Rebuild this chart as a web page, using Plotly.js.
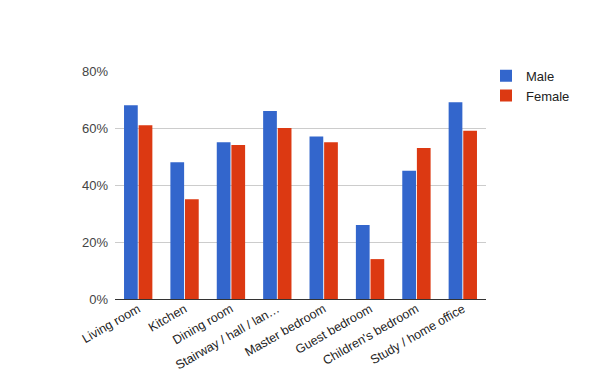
<!DOCTYPE html>
<html>
<head>
<meta charset="utf-8">
<script src="https://cdn.plot.ly/plotly-3.0.1.min.js"></script>
<style>html,body{margin:0;padding:0;background:#fff}#chart{width:600px;height:371px}</style>
</head>
<body>
<div id="chart"></div>
<script>
const categories = ["Living room", "Kitchen", "Dining room", "Stairway / hall / lan\u2026", "Master bedroom", "Guest bedroom", "Children's bedroom", "Study / home office"];
const maleValues = [0.68, 0.48, 0.55, 0.66, 0.57, 0.26, 0.45, 0.69];
const femaleValues = [0.61, 0.35, 0.54, 0.60, 0.55, 0.14, 0.53, 0.59];
const yTickValues = [0, 0.2, 0.4, 0.6, 0.8];

const traces = [
  {type: "bar", name: "Male", x: categories, y: maleValues, marker: {color: "#3366CC"}, hoverinfo: "none"},
  {type: "bar", name: "Female", x: categories, y: femaleValues, marker: {color: "#DC3912"}, hoverinfo: "none"}
];

const layout = {
  width: 600, height: 371,
  margin: {l: 115, r: 114, t: 71, b: 72, pad: 0},
  paper_bgcolor: "#fff", plot_bgcolor: "#fff",
  font: {family: "Liberation Sans, Arial, sans-serif", size: 13, color: "#444"},
  barmode: "group", bargap: 0.37, bargroupgap: 0.06,
  showlegend: true,
  legend: {x: 1.0, xanchor: "left", y: 1.045, yanchor: "top", font: {size: 13, color: "#222"}, bgcolor: "rgba(0,0,0,0)", tracegroupgap: 0},
  xaxis: {
    type: "category", tickangle: -30, showgrid: false, showline: true, linecolor: "#333", linewidth: 1,
    ticks: "", tickfont: {size: 12.5, color: "#222"}, zeroline: false, fixedrange: true, ticklabelstandoff: -3
  },
  yaxis: {
    range: [0, 0.8], tickvals: yTickValues, tickformat: ".0%", showgrid: true, gridcolor: "#ccc",
    zeroline: true, zerolinecolor: "#333", zerolinewidth: 1, ticks: "", tickfont: {size: 13, color: "#444"},
    fixedrange: true, showline: false, ticklabelstandoff: 6
  }
};

Plotly.newPlot("chart", traces, layout, {displayModeBar: false, staticPlot: true});
</script>
</body>
</html>
